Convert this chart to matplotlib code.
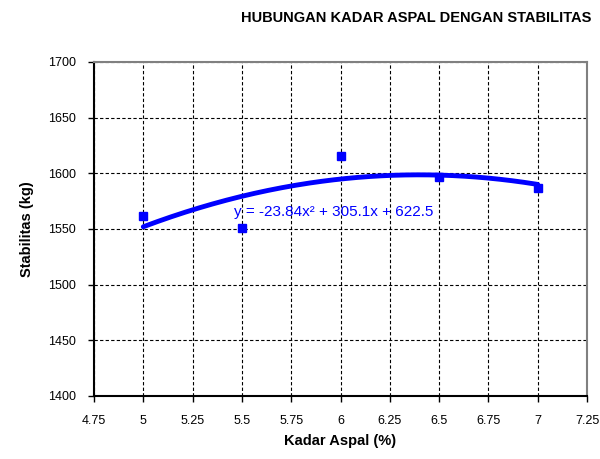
import matplotlib
matplotlib.use("Agg")
import matplotlib.pyplot as plt
import numpy as np

plt.rcParams['font.family'] = ['Liberation Sans', 'DejaVu Sans']

kadar_aspal = [5.0, 5.5, 6.0, 6.5, 7.0]
stabilitas = [1562, 1551, 1616, 1597, 1587]
trend_coef = [-23.84, 305.1, 622.5]  # a, b, c of y = a x^2 + b x + c
x_ticks = [4.75, 5, 5.25, 5.5, 5.75, 6, 6.25, 6.5, 6.75, 7, 7.25]
x_tick_labels = ['4.75', '5', '5.25', '5.5', '5.75', '6', '6.25', '6.5', '6.75', '7', '7.25']
y_ticks = [1400, 1450, 1500, 1550, 1600, 1650, 1700]

fig = plt.figure(figsize=(6.0, 4.59), dpi=100)
ax = fig.add_axes([94/600, 1 - 396/459, (587-94)/600, (396-62)/459])

blue = '#0000FF'
xs = np.linspace(min(kadar_aspal), max(kadar_aspal), 200)
ys = np.polyval(trend_coef, xs)
ax.plot(xs, ys, color=blue, lw=3.5, solid_capstyle='round', zorder=3)
ax.plot(kadar_aspal, stabilitas, 's', color=blue, markersize=6, zorder=4)

ax.text(5.46, 1565, 'y = -23.84x² + 305.1x + 622.5', color=blue, fontsize=11,
        ha='left', va='center', zorder=5)

ax.set_xlim(4.75, 7.25)
ax.set_ylim(1400, 1700)
ax.set_xticks(x_ticks)
ax.set_xticklabels(x_tick_labels)
ax.set_yticks(y_ticks)
ax.grid(True, color='black', linestyle=(0, (3, 2)), linewidth=0.8)
ax.tick_params(axis='both', direction='out', length=4, width=1, labelsize=9)
ax.tick_params(axis='x', pad=10)
ax.tick_params(axis='y', pad=9)

for s in ['left', 'bottom']:
    ax.spines[s].set_color('black')
    ax.spines[s].set_linewidth(1.5)
for s in ['top', 'right']:
    ax.spines[s].set_color('#808080')
    ax.spines[s].set_linewidth(1.5)

ax.set_xlabel('Kadar Aspal (%)', fontsize=10.5, fontweight='bold', labelpad=5)
ax.set_ylabel('Stabilitas (kg)', fontsize=10.5, fontweight='bold', labelpad=10)

fig.text(416/600, 1 - 18/459, 'HUBUNGAN KADAR ASPAL DENGAN STABILITAS',
         ha='center', va='center', fontsize=10.5, fontweight='bold')

fig.savefig('out.png', dpi=100)
